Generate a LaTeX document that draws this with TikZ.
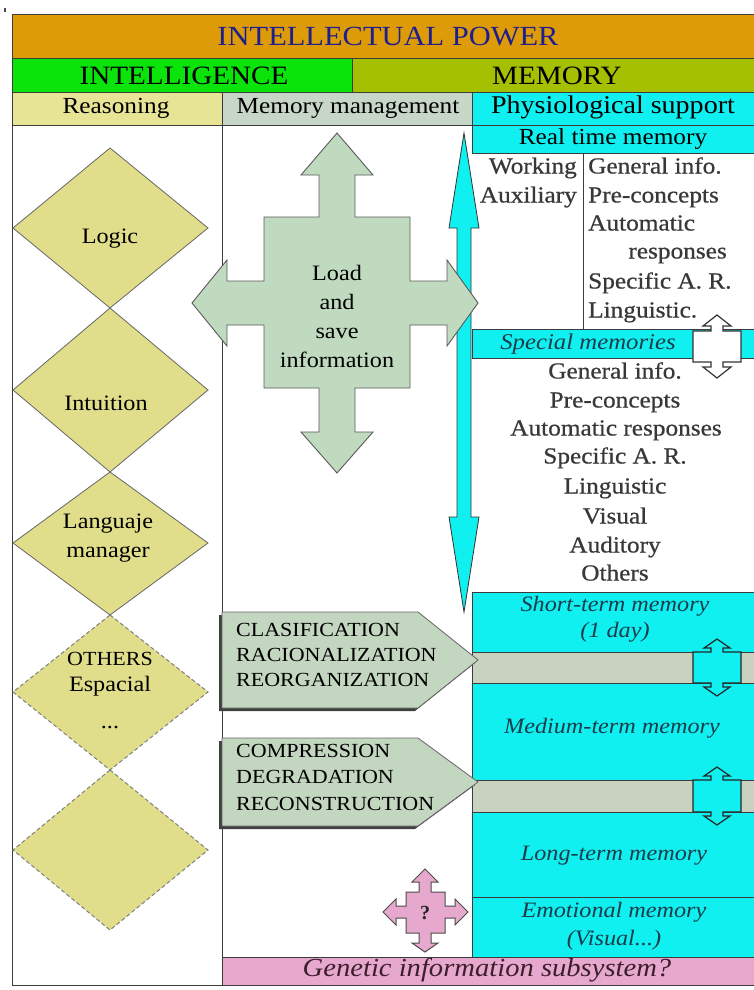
\documentclass[tikz,border=0pt]{standalone}
\usepackage{fontspec}
\setmainfont{Liberation Serif}
\newfontfamily\ws[FakeStretch=1.1]{Liberation Serif}
\newfontfamily\wsb[FakeStretch=1.1,FakeBold=0.6]{Liberation Serif}
\definecolor{orangeT}{RGB}{222,155,8}
\definecolor{greenI}{RGB}{10,228,10}
\definecolor{oliveM}{RGB}{165,192,0}
\definecolor{khakiH}{RGB}{232,228,150}
\definecolor{khakiD}{RGB}{224,222,138}
\definecolor{mmH}{RGB}{200,214,200}
\definecolor{cyanB}{RGB}{16,240,240}
\definecolor{loadF}{RGB}{192,218,192}
\definecolor{pentF}{RGB}{195,214,192}
\definecolor{barF}{RGB}{200,210,190}
\definecolor{pinkG}{RGB}{230,168,204}
\definecolor{navyT}{RGB}{30,30,140}
\definecolor{tealT}{RGB}{25,60,75}
\definecolor{plumT}{RGB}{60,30,45}
\definecolor{edgeC}{RGB}{60,60,60}
\newcommand\fsz[1]{\fontsize{#1}{1.25\dimexpr#1pt\relax}\selectfont}
% vertical double arrow with rectangular body
\newcommand\vdarr[9]{%
 \path[#1] ({#2},{#3-#7-#9}) -- ({#2+#8},{#3-#7}) -- ({#2+#6},{#3-#7}) -- ({#2+#6},{#3}) -- ({#2+#5},{#3})
 -- ({#2+#5},{#4}) -- ({#2+#6},{#4}) -- ({#2+#6},{#4+#7}) -- ({#2+#8},{#4+#7}) -- ({#2},{#4+#7+#9})
 -- ({#2-#8},{#4+#7}) -- ({#2-#6},{#4+#7}) -- ({#2-#6},{#4}) -- ({#2-#5},{#4}) -- ({#2-#5},{#3})
 -- ({#2-#6},{#3}) -- ({#2-#6},{#3-#7}) -- ({#2-#8},{#3-#7}) -- cycle;}
\tikzset{
 band/.style={draw=edgeC, line width=1pt},
 hdr/.style={font=\ws\fsz{23}, inner sep=0pt, text height=16pt, text depth=5pt},
 rtxt/.style={font=\wsb\fsz{23}, inner sep=0pt, text=black!78, text height=16pt, text depth=5pt},
 itx/.style={font=\ws\itshape\fsz{22}, inner sep=0pt, text=tealT, text height=15pt, text depth=5pt},
 dia/.style={fill=khakiD, draw=black!60, line width=0.8pt},
 diad/.style={fill=khakiD, draw=black!50, line width=1pt, dash pattern=on 4pt off 2.5pt},
 dtxt/.style={font=\ws\fsz{22}, inner sep=0pt, align=center},
 ptxt/.style={font=\ws\fsz{20}, inner sep=0pt, align=left, anchor=west},
 pent/.style={fill=pentF, draw=black!60, line width=0.8pt},
 shad/.style={fill=black!75},
}
\begin{document}
\begin{tikzpicture}[x=1pt,y=-1pt]
\useasboundingbox (0,0) rectangle (753,990);
\fill[white] (0,0) rectangle (753,990);
\fill[black!70] (4,8) rectangle (6,12);
% top bands
\draw[band, fill=orangeT] (12,15) rectangle (758,59);
\node[font=\ws\fsz{27.7}, text=navyT, inner sep=0pt] (title) at (388,37) {INTELLECTUAL POWER};
\draw[band, fill=greenI] (12,59) rectangle (352,92);
\draw[band, fill=oliveM] (352,59) rectangle (758,92);
\node[font=\ws\fsz{26.5}, inner sep=0pt] (intel) at (184,76) {INTELLIGENCE};
\node[font=\ws\fsz{26.5}, inner sep=0pt] (memory) at (557,76) {MEMORY};
\draw[band, fill=khakiH] (12,92) rectangle (222,125);
\draw[band, fill=mmH] (222,92) rectangle (472,125);
\draw[band, fill=cyanB] (472,92) rectangle (758,125);
\node[hdr] (reas) at (116,108) {Reasoning};
\node[hdr] (mm) at (348,108) {Memory management};
\node[hdr, font=\ws\fsz{25.5}] (phys) at (613,108) {Physiological support};
% left column
\draw[band] (12,125) rectangle (222,985);
\draw[band] (222,125) -- (222,985);
% right column bands
\draw[band, fill=cyanB] (472,125) rectangle (758,153);
\node[hdr] (rtm) at (613,139) {Real time memory};
\draw[band] (583,153) -- (583,329);
\node[rtxt, anchor=east] (work) at (577,168) {Working};
\node[rtxt, anchor=east] (aux) at (577,197) {Auxiliary};
\node[rtxt, anchor=west] (gi1) at (588,168) {General info.};
\node[rtxt, anchor=west] (pc1) at (588,197) {Pre-concepts};
\node[rtxt, anchor=west] (au1) at (588,225) {Automatic};
\node[rtxt, anchor=east] (re1) at (727,253) {responses};
\node[rtxt, anchor=west] (sp1) at (588,283) {Specific A. R.};
\node[rtxt, anchor=west] (li1) at (588,312) {Linguistic.};
\draw[band, fill=cyanB] (472,329) rectangle (758,358);
\node[itx, font=\ws\itshape\fsz{22.5}] (spm) at (588,344) {Special memories};
\vdarr{fill=white, draw=black!80, line width=1.2pt}{717}{331}{362}{24}{6}{5}{14}{11}
\node[rtxt] (gi2) at (615,373) {General info.};
\node[rtxt] (pc2) at (615,402) {Pre-concepts};
\node[rtxt] (au2) at (616,430) {Automatic responses};
\node[rtxt] (sp2) at (615,458) {Specific A. R.};
\node[rtxt] (li2) at (615,488) {Linguistic};
\node[rtxt] (vi2) at (615,518) {Visual};
\node[rtxt] (ad2) at (615,547) {Auditory};
\node[rtxt] (ot2) at (615,575) {Others};
\draw[band, fill=cyanB] (472,592) rectangle (758,652);
\node[itx] (stm) at (615,606) {Short-term memory};
\node[itx] (day) at (615,632) {(1 day)};
\draw[band, fill=barF] (472,652) rectangle (758,683);
\draw[band, fill=cyanB] (472,683) rectangle (758,780);
\node[itx] (mtm) at (612,728) {Medium-term memory};
\draw[band, fill=barF] (472,780) rectangle (758,812);
\draw[band, fill=cyanB] (472,812) rectangle (758,897);
\node[itx] (ltm) at (614,855) {Long-term memory};
\draw[band, fill=cyanB] (472,897) rectangle (758,957);
\node[itx] (emo) at (614,912) {Emotional memory};
\node[itx] (vis) at (614,940) {(Visual...)};
\draw[band, fill=pinkG] (222,957) rectangle (758,985);
\node[itx, text=plumT, font=\ws\itshape\fsz{26}] (gen) at (487,971) {Genetic information subsystem?};
% cross arrows in bars
\vdarr{fill=cyanB, draw=black!85, line width=1.2pt}{717}{652}{683}{24}{6}{4}{13}{9}
\vdarr{fill=cyanB, draw=black!85, line width=1.2pt}{717}{780}{812}{24}{6}{4}{13}{9}
% cyan long double arrow
\vdarr{fill=cyanB, draw=black!80, line width=0.8pt}{464}{228}{517}{7}{7}{0}{15}{95}
% load and save arrow
\draw[fill=loadF, draw=black!65, line width=0.9pt]
 (337,133) -- (373,175) -- (355,175) -- (355,217) -- (410,217) -- (410,281) -- (447,281) -- (447,260)
 -- (478,303) -- (447,346) -- (447,325) -- (410,325) -- (410,388) -- (355,388) -- (355,432) -- (373,432)
 -- (337,473) -- (301,432) -- (319,432) -- (319,388) -- (264,388) -- (264,325) -- (227,325) -- (227,346)
 -- (192,303) -- (227,260) -- (227,281) -- (264,281) -- (264,217) -- (319,217) -- (319,175) -- (301,175) -- cycle;
\node[font=\ws\fsz{22}, align=center, inner sep=0pt] (load) at (337,316) {Load\\[1.5pt]and\\[1.5pt]save\\[1.5pt]information};
% pentagons
\fill[shad, xshift=-3pt, yshift=-3pt] (222,612) -- (418,612) -- (478,660) -- (418,708) -- (222,708) -- cycle;
\draw[pent] (222,612) -- (418,612) -- (478,660) -- (418,708) -- (222,708) -- cycle;
\node[ptxt] (p1) at (236,655) {CLASIFICATION\\[0pt]RACIONALIZATION\\[0pt]REORGANIZATION};
\fill[shad, xshift=-3pt, yshift=-3pt] (222,738) -- (418,738) -- (478,782) -- (418,826) -- (222,826) -- cycle;
\draw[pent] (222,738) -- (418,738) -- (478,782) -- (418,826) -- (222,826) -- cycle;
\node[ptxt] (p2) at (236,777) {COMPRESSION\\[1.5pt]DEGRADATION\\[1.5pt]RECONSTRUCTION};
% pink cross
\path[fill=pinkG, draw=black!70, line width=1pt]
 (425,869) -- (438,882) -- (431,882) -- (431,892) -- (445,892) -- (445,906) -- (455,906) -- (455,899)
 -- (468,912) -- (455,925) -- (455,918) -- (445,918) -- (445,933) -- (431,933) -- (431,943) -- (438,943)
 -- (425,952) -- (412,943) -- (419,943) -- (419,933) -- (406,933) -- (406,918) -- (396,918) -- (396,925)
 -- (383,912) -- (396,899) -- (396,906) -- (406,906) -- (406,892) -- (419,892) -- (419,882) -- (412,882) -- cycle;
\node[font=\bfseries\fsz{20}, inner sep=0pt, text=black!85] (q) at (425,913) {?};
% diamonds
\draw[dia] (110,148) -- (208,228) -- (110,308) -- (13,228) -- cycle;
\node[dtxt] (logic) at (110,239) {Logic};
\draw[dia] (110,308) -- (208,390) -- (110,472) -- (13,390) -- cycle;
\node[dtxt] (intu) at (106,403) {Intuition};
\draw[dia] (110,472) -- (208,543) -- (110,615) -- (13,543) -- cycle;
\node[dtxt] (lang) at (108,538) {Languaje\\[1pt]manager};
\draw[diad] (110,615) -- (208,692) -- (110,770) -- (13,692) -- cycle;
\node[dtxt] (oth) at (110,674) {{\fsz{20}OTHERS}\\[-1pt]Espacial};
\node[dtxt] (dots) at (110,728) {...};
\draw[diad] (110,770) -- (208,850) -- (110,930) -- (13,850) -- cycle;
\end{tikzpicture}
\end{document}
